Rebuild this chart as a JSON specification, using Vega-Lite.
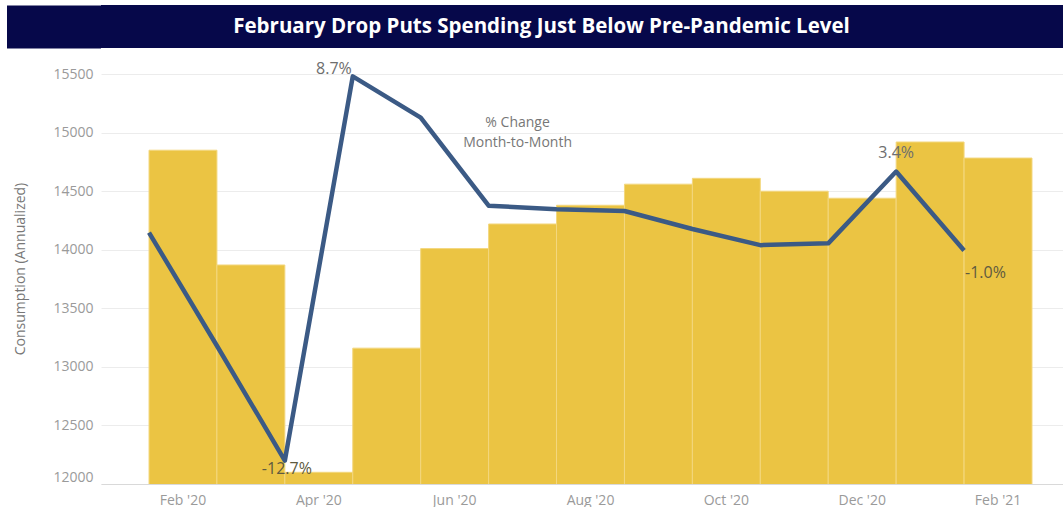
{
  "$schema": "https://vega.github.io/schema/vega-lite/v6.json",
  "padding": {"left": -15, "top": 5, "right": 0, "bottom": 0},
  "background": "white",
  "spacing": 4,
  "config": {"view": {"stroke": null}, "font": "Open Sans"},
  "datasets": {
    "spend": [
      {"month": "Feb '20", "consumption": 14850, "pct": 0.0, "lbl": ""},
      {"month": "Mar '20", "consumption": 13870, "pct": -6.3, "lbl": ""},
      {"month": "Apr '20", "consumption": 12100, "pct": -12.7, "lbl": "-12.7%"},
      {"month": "May '20", "consumption": 13160, "pct": 8.7, "lbl": "8.7%"},
      {"month": "Jun '20", "consumption": 14010, "pct": 6.4, "lbl": ""},
      {"month": "Jul '20", "consumption": 14220, "pct": 1.5, "lbl": ""},
      {"month": "Aug '20", "consumption": 14380, "pct": 1.3, "lbl": ""},
      {"month": "Sep '20", "consumption": 14560, "pct": 1.2, "lbl": ""},
      {"month": "Oct '20", "consumption": 14610, "pct": 0.2, "lbl": ""},
      {"month": "Nov '20", "consumption": 14500, "pct": -0.7, "lbl": ""},
      {"month": "Dec '20", "consumption": 14440, "pct": -0.6, "lbl": ""},
      {"month": "Jan '21", "consumption": 14920, "pct": 3.4, "lbl": "3.4%"},
      {"month": "Feb '21", "consumption": 14783, "pct": -1.0, "lbl": "-1.0%"}
    ],
    "heading": [{"t": "February Drop Puts Spending Just Below Pre-Pandemic Level"}],
    "note": [{"month": "Jul '20", "level": 6.1, "note": "% Change\nMonth-to-Month"}]
  },
  "vconcat": [
    {
      "width": 963,
      "height": 43,
      "view": {"fill": "#06084a", "stroke": null},
      "data": {"name": "heading"},
      "mark": {"type": "text", "color": "white", "font": "Open Sans", "fontWeight": "bold", "fontSize": 20.5, "align": "center", "baseline": "middle", "dx": -41},
      "encoding": {
        "text": {"field": "t", "type": "nominal"},
        "y": {
          "datum": 1, "type": "quantitative",
          "scale": {"domain": [0, 2], "nice": false, "zero": false},
          "axis": {"values": [1], "title": null, "labels": false, "domain": false, "grid": false, "ticks": true, "tickSize": 94, "tickWidth": 43, "tickColor": "#06084a", "tickCap": "butt", "tickOpacity": 1, "translate": 0}
        }
      }
    },
    {
      "width": 963,
      "height": 431,
      "data": {"name": "spend"},
      "layer": [
        {
          "mark": {"type": "bar", "color": "#EBC443", "stroke": "#F3D77E", "strokeWidth": 1, "clip": true},
          "encoding": {
            "x": {
              "field": "month", "type": "nominal", "sort": null,
              "scale": {"paddingInner": 0, "paddingOuter": 0.589, "align": 0.6},
              "axis": {"title": null, "values": ["Feb '20", "Apr '20", "Jun '20", "Aug '20", "Oct '20", "Dec '20", "Feb '21"], "labelAngle": 0, "ticks": false, "domain": true, "domainColor": "#d9d9d9", "labelColor": "#9a9a9a", "labelFontSize": 14, "labelFont": "Open Sans", "labelPadding": 9, "grid": false}
            },
            "y": {
              "field": "consumption", "type": "quantitative",
              "scale": {"domain": [12000, 15680], "zero": false, "nice": false},
              "axis": {"title": "Consumption (Annualized)", "titleFont": "Open Sans", "titleFontSize": 14, "titleFontWeight": "normal", "titleColor": "#777777", "titlePadding": 14, "values": [12000, 12500, 13000, 13500, 14000, 14500, 15000, 15500], "format": "d", "labelColor": "#9a9a9a", "labelFont": "Open Sans", "labelFontSize": 14, "labelPadding": 8, "ticks": false, "domain": false, "grid": true, "gridColor": "#ececec", "labelFlush": true, "minExtent": 60, "maxExtent": 60}
            }
          }
        },
        {
          "encoding": {
            "x": {
              "field": "month", "type": "nominal", "sort": null, "bandPosition": 0,
              "axis": {"title": null, "values": ["Feb '20", "Apr '20", "Jun '20", "Aug '20", "Oct '20", "Dec '20", "Feb '21"], "labelAngle": 0, "ticks": false, "domain": true, "domainColor": "#d9d9d9", "labelColor": "#9a9a9a", "labelFontSize": 14, "labelFont": "Open Sans", "labelPadding": 9, "grid": false}
            },
            "y": {"field": "pct", "type": "quantitative", "scale": {"domain": [-14, 10], "zero": false, "nice": false}, "axis": null}
          },
          "layer": [
            {"mark": {"type": "line", "color": "#3B5A85", "strokeWidth": 4.5, "strokeJoin": "round"}},
            {
              "transform": [{"filter": "datum.lbl === '8.7%'"}],
              "mark": {"type": "text", "align": "right", "baseline": "alphabetic", "dx": -1, "dy": -2, "fontSize": 16, "color": "#6e6e6e"},
              "encoding": {"text": {"field": "lbl", "type": "nominal"}}
            },
            {
              "transform": [{"filter": "datum.lbl === '3.4%'"}],
              "mark": {"type": "text", "align": "center", "baseline": "alphabetic", "dx": 0, "dy": -14, "fontSize": 16, "color": "#6e6e6e"},
              "encoding": {"text": {"field": "lbl", "type": "nominal"}}
            },
            {
              "transform": [{"filter": "datum.lbl === '-12.7%'"}],
              "mark": {"type": "text", "align": "center", "baseline": "alphabetic", "dx": 2, "dy": 13, "fontSize": 16, "color": "#5e5a40"},
              "encoding": {"text": {"field": "lbl", "type": "nominal"}}
            },
            {
              "transform": [{"filter": "datum.lbl === '-1.0%'"}],
              "mark": {"type": "text", "align": "left", "baseline": "alphabetic", "dx": 1, "dy": 27, "fontSize": 16, "color": "#5e5a40"},
              "encoding": {"text": {"field": "lbl", "type": "nominal"}}
            },
            {
              "data": {"name": "note"},
              "mark": {"type": "text", "align": "center", "baseline": "middle", "lineBreak": "\n", "lineHeight": 20, "dx": -5, "fontSize": 14, "color": "#777777"},
              "encoding": {
                "x": {"field": "month", "type": "nominal", "bandPosition": 0.5},
                "y": {"field": "level", "type": "quantitative"},
                "text": {"field": "note", "type": "nominal"}
              }
            }
          ]
        }
      ],
      "resolve": {"scale": {"y": "independent"}, "axis": {"y": "independent"}}
    }
  ]
}
